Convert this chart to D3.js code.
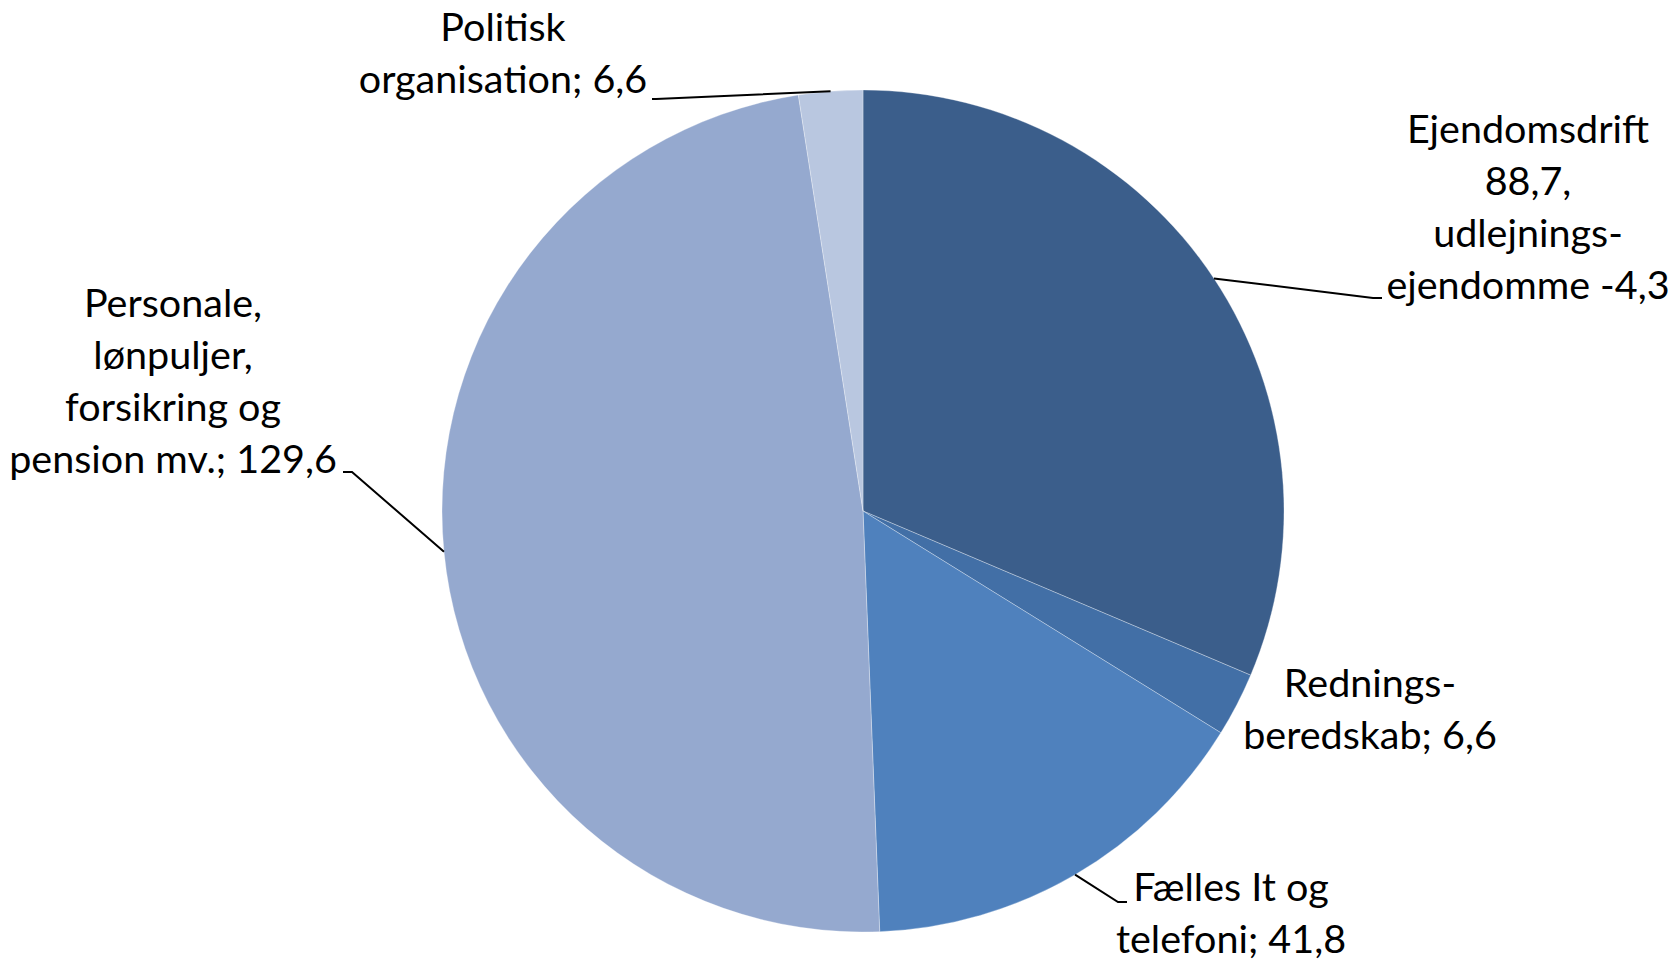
<!DOCTYPE html>
<html>
<head>
<meta charset="utf-8">
<script src="https://cdn.jsdelivr.net/npm/d3@7"></script>
<style>
  html, body { margin: 0; padding: 0; background: #fff; }
  svg { display: block; }
</style>
</head>
<body>
<div id="chart"></div>
<script>

// Data
const categories = ["Ejendomsdrift", "Redningsberedskab", "Fælles It og telefoni", "Personale", "Politisk organisation"];
const values = [84.4, 6.6, 41.8, 129.6, 6.6];
const labelLines = [
    ["Ejendomsdrift", "88,7,", "udlejnings-", "ejendomme -4,3"],
    ["Rednings-", "beredskab; 6,6"],
    ["Fælles It og", "telefoni; 41,8"],
    ["Personale,", "lønpuljer,", "forsikring og", "pension mv.; 129,6"],
    ["Politisk", "organisation; 6,6"]
];
const colors = ["#3b5e8b", "#426fa6", "#4f81bd", "#95a9cf", "#b9c7e0"];

//Layout of the labels (centre x, first baseline y, elbow of the leader line)
const labelLayout = [
    {x: 1528, y: 143, elbow: [[1373, 298], [1382, 298]]},
    {x: 1370, y: 697, elbow: null},
    {x: 1231, y: 901, elbow: [[1118, 902], [1127, 902]]},
    {x: 173, y: 317, elbow: [[352, 472], [343, 472]]},
    {x: 503, y: 41, elbow: [[656, 99], [652, 99]]}
];

const width = 1675, height = 960;
const cx = 863, cy = 511, radius = 421;
const lineHeight = 52;

let svg = d3.select("#chart").append("svg")
    .attr("width", width)
    .attr("height", height);

let pie = d3.pie().sort(null).value(d => d)(values);
let arc = d3.arc().innerRadius(0).outerRadius(radius);

let g = svg.append("g").attr("transform", `translate(${cx},${cy})`);

g.selectAll("path.slice")
    .data(pie)
    .join("path")
    .attr("class", "slice")
    .attr("d", arc)
    .attr("fill", (d, i) => colors[i])
    .attr("stroke", "#ffffff")
    .attr("stroke-opacity", 0.3)
    .attr("stroke-width", 1);

//Leader lines from the middle of each slice edge
pie.forEach((d, i) => {
    let lay = labelLayout[i];
    if (!lay.elbow) return;
    let a = (d.startAngle + d.endAngle) / 2;
    let p0 = [cx + radius * Math.sin(a), cy - radius * Math.cos(a)];
    svg.append("polyline")
        .attr("points", [p0].concat(lay.elbow).map(p => p.join(",")).join(" "))
        .attr("fill", "none")
        .attr("stroke", "#000")
        .attr("stroke-width", 2);
});

//Labels
labelLines.forEach((lines, i) => {
    let lay = labelLayout[i];
    let t = svg.append("text")
        .attr("text-anchor", "middle")
        .attr("font-family", "Lato, 'Open Sans', sans-serif")
        .attr("font-size", 39.5)
        .attr("fill", "#000");
    lines.forEach((line, k) => {
        t.append("tspan")
            .attr("x", lay.x)
            .attr("y", lay.y + k * lineHeight)
            .text(line);
    });
});

</script>
</body>
</html>
